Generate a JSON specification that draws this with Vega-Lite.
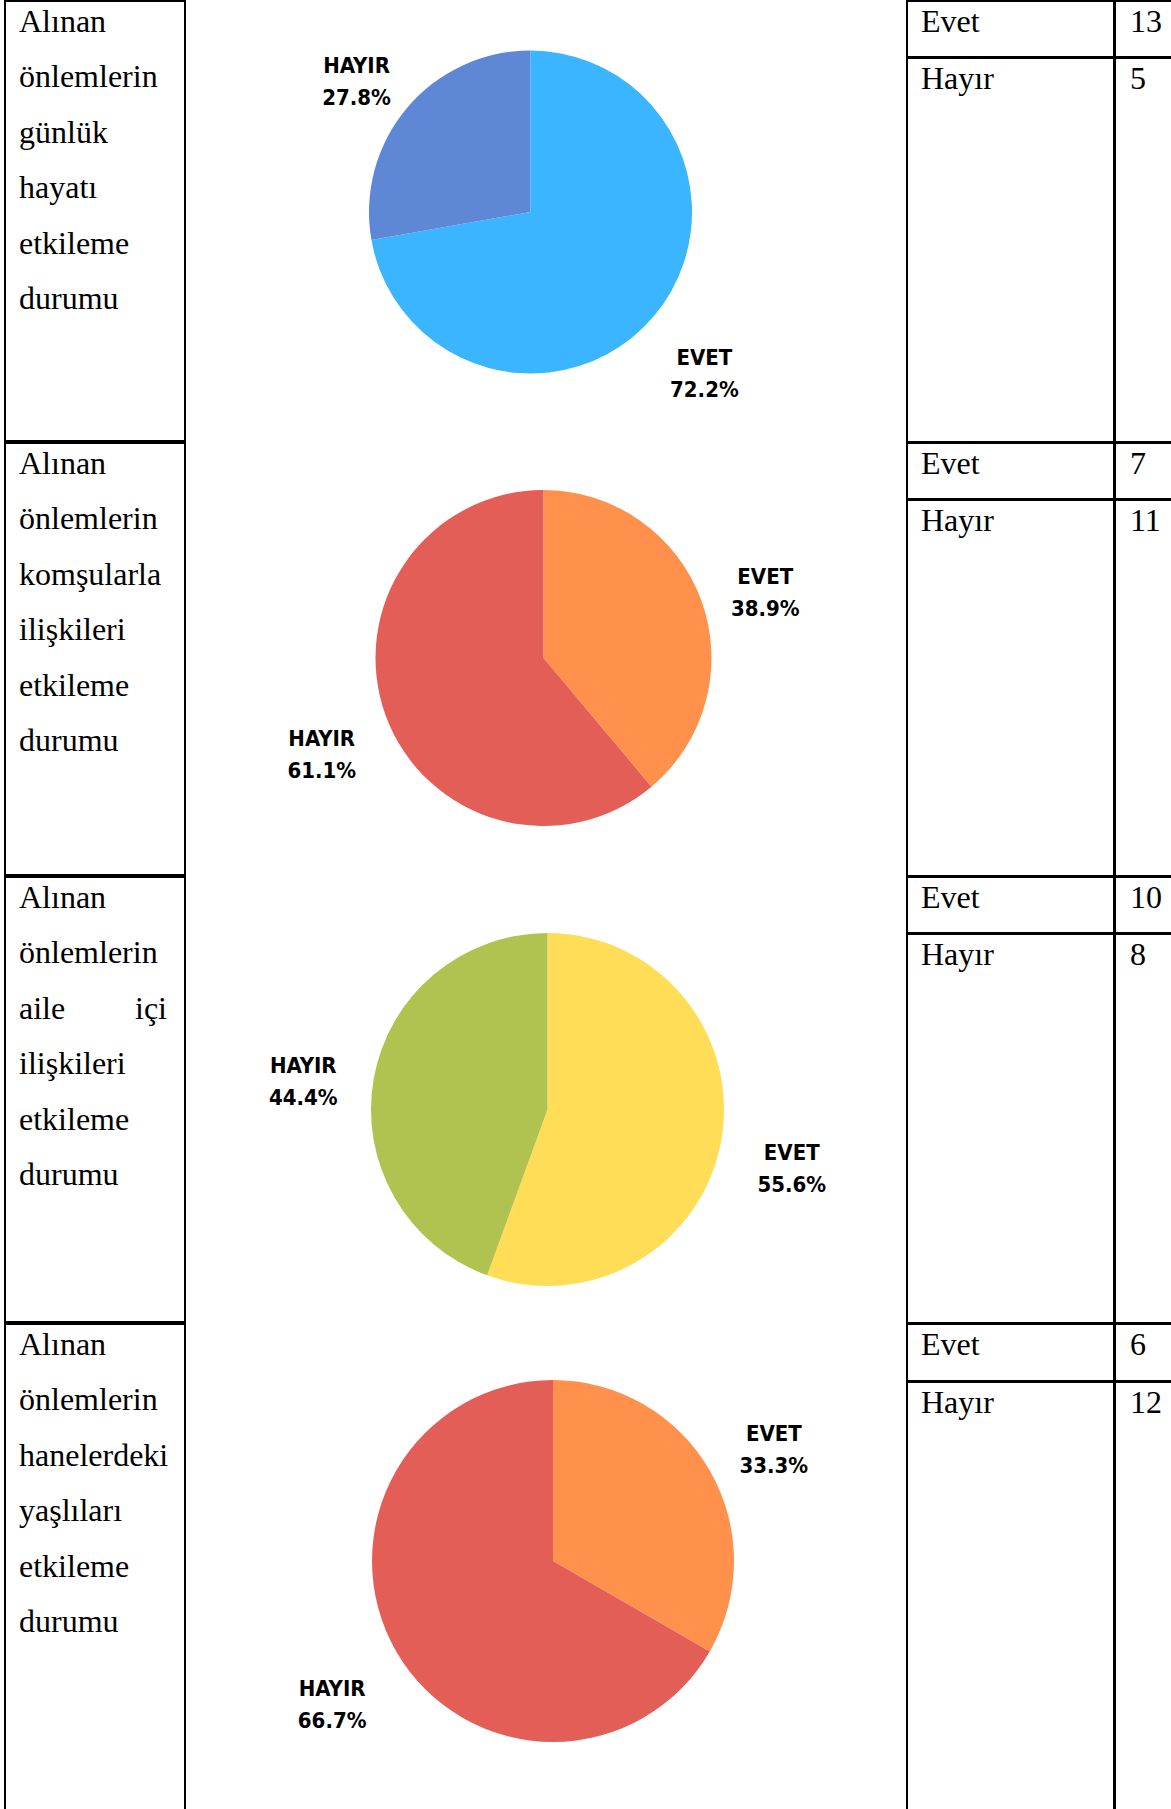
{
  "$schema": "https://vega.github.io/schema/vega-lite/v6.json",
  "padding": {"left": 4, "top": 0, "right": 0, "bottom": 0},
  "background": "white",
  "config": {"view": {"stroke": "black", "strokeWidth": 2}, "concat": {"spacing": -4}},
  "datasets": {
    "labels": [
      {"q": 1, "line": 1, "side": 0, "text": "Alınan"},
      {"q": 1, "line": 2, "side": 0, "text": "önlemlerin"},
      {"q": 1, "line": 3, "side": 0, "text": "günlük"},
      {"q": 1, "line": 4, "side": 0, "text": "hayatı"},
      {"q": 1, "line": 5, "side": 0, "text": "etkileme"},
      {"q": 1, "line": 6, "side": 0, "text": "durumu"},
      {"q": 2, "line": 1, "side": 0, "text": "Alınan"},
      {"q": 2, "line": 2, "side": 0, "text": "önlemlerin"},
      {"q": 2, "line": 3, "side": 0, "text": "komşularla"},
      {"q": 2, "line": 4, "side": 0, "text": "ilişkileri"},
      {"q": 2, "line": 5, "side": 0, "text": "etkileme"},
      {"q": 2, "line": 6, "side": 0, "text": "durumu"},
      {"q": 3, "line": 1, "side": 0, "text": "Alınan"},
      {"q": 3, "line": 2, "side": 0, "text": "önlemlerin"},
      {"q": 3, "line": 3, "side": 0, "text": "aile"},
      {"q": 3, "line": 3, "side": 1, "text": "içi"},
      {"q": 3, "line": 4, "side": 0, "text": "ilişkileri"},
      {"q": 3, "line": 5, "side": 0, "text": "etkileme"},
      {"q": 3, "line": 6, "side": 0, "text": "durumu"},
      {"q": 4, "line": 1, "side": 0, "text": "Alınan"},
      {"q": 4, "line": 2, "side": 0, "text": "önlemlerin"},
      {"q": 4, "line": 3, "side": 0, "text": "hanelerdeki"},
      {"q": 4, "line": 4, "side": 0, "text": "yaşlıları"},
      {"q": 4, "line": 5, "side": 0, "text": "etkileme"},
      {"q": 4, "line": 6, "side": 0, "text": "durumu"}
    ],
    "pies": [
      {"q": 1, "answer": "Evet", "count": 13, "pct": 72.2},
      {"q": 1, "answer": "Hayır", "count": 5, "pct": 27.8},
      {"q": 2, "answer": "Evet", "count": 7, "pct": 38.9},
      {"q": 2, "answer": "Hayır", "count": 11, "pct": 61.1},
      {"q": 3, "answer": "Evet", "count": 10, "pct": 55.6},
      {"q": 3, "answer": "Hayır", "count": 8, "pct": 44.4},
      {"q": 4, "answer": "Evet", "count": 6, "pct": 33.3},
      {"q": 4, "answer": "Hayır", "count": 12, "pct": 66.7}
    ]
  },
  "spacing": -4,
  "resolve": {"scale": {"color": "independent", "theta": "independent", "x": "independent", "y": "independent"}},
  "vconcat": [
    {
      "spacing": -4,
      "resolve": {"scale": {"color": "independent", "theta": "independent", "x": "independent", "y": "independent"}},
      "hconcat": [
        {"width": 180, "height": 440, "data": {"name": "labels"},
         "transform": [{"filter": "datum.q == 1"}],
         "encoding": {
           "x": {"field": "side", "type": "quantitative", "axis": null, "scale": {"domain": [0, 1], "range": [14, 162], "nice": false, "zero": false}},
           "y": {"field": "line", "type": "quantitative", "axis": null, "scale": {"domain": [1, 6], "range": [31, 308], "nice": false, "zero": false}},
           "text": {"field": "text"}},
         "layer": [
           {"transform": [{"filter": "datum.side == 0"}], "mark": {"type": "text", "align": "left", "baseline": "alphabetic", "font": "Liberation Serif", "fontSize": 32, "color": "black"}},
           {"transform": [{"filter": "datum.side == 1"}], "mark": {"type": "text", "align": "right", "baseline": "alphabetic", "font": "Liberation Serif", "fontSize": 32, "color": "black"}}
         ]},
        {"width": 721, "height": 440, "data": {"name": "pies"},
         "transform": [{"filter": "datum.q == 1"}, {"calculate": "upper(datum.answer) + '\\n' + format(datum.pct, '.1f') + '%'", "as": "lbl"}],
         "encoding": {
           "theta": {"field": "count", "type": "quantitative", "stack": true},
           "order": {"field": "answer", "sort": "ascending"},
           "color": {"field": "answer", "type": "nominal", "legend": null, "scale": {"domain": ["Evet", "Hayır"], "range": ["#3BB5FF", "#5E88D6"]}}},
         "layer": [
           {"mark": {"type": "arc", "outerRadius": 161.5, "xOffset": -16, "yOffset": -9}},
           {"mark": {"type": "text", "radius": 227, "xOffset": -16, "yOffset": -9, "font": "'Liberation Sans Narrow', 'DejaVu Sans Condensed', 'Open Sans', sans-serif", "fontWeight": "bold", "fontSize": 22, "lineBreak": "\n", "lineHeight": 32, "align": "center", "baseline": "middle"},
            "encoding": {"text": {"field": "lbl"}, "color": {"value": "black"}}}
         ]},
        {"spacing": -4, "vconcat": [
          {"width": 207, "height": 56, "data": {"name": "pies"}, "transform": [{"filter": "datum.q == 1 && datum.answer == 'Evet'"}],
           "mark": {"type": "text", "align": "left", "baseline": "alphabetic", "font": "Liberation Serif", "fontSize": 32, "color": "black"},
           "encoding": {"x": {"datum": 0, "type": "quantitative", "axis": null, "scale": {"domain": [0, 1], "range": [14, 192], "nice": false, "zero": false}},
                        "y": {"datum": 1, "type": "quantitative", "axis": null, "scale": {"domain": [1, 6], "range": [31, 308], "nice": false, "zero": false}},
                        "text": {"field": "answer"}}},
          {"width": 207, "height": 384, "data": {"name": "pies"}, "transform": [{"filter": "datum.q == 1 && datum.answer == 'Hayır'"}],
           "mark": {"type": "text", "align": "left", "baseline": "alphabetic", "font": "Liberation Serif", "fontSize": 32, "color": "black"},
           "encoding": {"x": {"datum": 0, "type": "quantitative", "axis": null, "scale": {"domain": [0, 1], "range": [14, 192], "nice": false, "zero": false}},
                        "y": {"datum": 1, "type": "quantitative", "axis": null, "scale": {"domain": [1, 6], "range": [31, 308], "nice": false, "zero": false}},
                        "text": {"field": "answer"}}}
        ]},
        {"spacing": -4, "vconcat": [
          {"width": 58, "height": 56, "data": {"name": "pies"}, "transform": [{"filter": "datum.q == 1 && datum.answer == 'Evet'"}],
           "mark": {"type": "text", "align": "left", "baseline": "alphabetic", "font": "Liberation Serif", "fontSize": 32, "color": "black"},
           "encoding": {"x": {"datum": 0, "type": "quantitative", "axis": null, "scale": {"domain": [0, 1], "range": [15, 50], "nice": false, "zero": false}},
                        "y": {"datum": 1, "type": "quantitative", "axis": null, "scale": {"domain": [1, 6], "range": [31, 308], "nice": false, "zero": false}},
                        "text": {"field": "count"}}},
          {"width": 58, "height": 384, "data": {"name": "pies"}, "transform": [{"filter": "datum.q == 1 && datum.answer == 'Hayır'"}],
           "mark": {"type": "text", "align": "left", "baseline": "alphabetic", "font": "Liberation Serif", "fontSize": 32, "color": "black"},
           "encoding": {"x": {"datum": 0, "type": "quantitative", "axis": null, "scale": {"domain": [0, 1], "range": [15, 50], "nice": false, "zero": false}},
                        "y": {"datum": 1, "type": "quantitative", "axis": null, "scale": {"domain": [1, 6], "range": [31, 308], "nice": false, "zero": false}},
                        "text": {"field": "count"}}}
        ]}
      ]
    },
    {
      "spacing": -4,
      "resolve": {"scale": {"color": "independent", "theta": "independent", "x": "independent", "y": "independent"}},
      "hconcat": [
        {"width": 180, "height": 432, "data": {"name": "labels"},
         "transform": [{"filter": "datum.q == 2"}],
         "encoding": {
           "x": {"field": "side", "type": "quantitative", "axis": null, "scale": {"domain": [0, 1], "range": [14, 162], "nice": false, "zero": false}},
           "y": {"field": "line", "type": "quantitative", "axis": null, "scale": {"domain": [1, 6], "range": [31, 308], "nice": false, "zero": false}},
           "text": {"field": "text"}},
         "layer": [
           {"transform": [{"filter": "datum.side == 0"}], "mark": {"type": "text", "align": "left", "baseline": "alphabetic", "font": "Liberation Serif", "fontSize": 32, "color": "black"}},
           {"transform": [{"filter": "datum.side == 1"}], "mark": {"type": "text", "align": "right", "baseline": "alphabetic", "font": "Liberation Serif", "fontSize": 32, "color": "black"}}
         ]},
        {"width": 721, "height": 432, "data": {"name": "pies"},
         "transform": [{"filter": "datum.q == 2"}, {"calculate": "upper(datum.answer) + '\\n' + format(datum.pct, '.1f') + '%'", "as": "lbl"}],
         "encoding": {
           "theta": {"field": "count", "type": "quantitative", "stack": true},
           "order": {"field": "answer", "sort": "ascending"},
           "color": {"field": "answer", "type": "nominal", "legend": null, "scale": {"domain": ["Evet", "Hayır"], "range": ["#FF914D", "#E45E58"]}}},
         "layer": [
           {"mark": {"type": "arc", "outerRadius": 168, "xOffset": -3, "yOffset": -1}},
           {"mark": {"type": "text", "radius": 236, "xOffset": -3, "yOffset": -1, "font": "'Liberation Sans Narrow', 'DejaVu Sans Condensed', 'Open Sans', sans-serif", "fontWeight": "bold", "fontSize": 22, "lineBreak": "\n", "lineHeight": 32, "align": "center", "baseline": "middle"},
            "encoding": {"text": {"field": "lbl"}, "color": {"value": "black"}}}
         ]},
        {"spacing": -4, "vconcat": [
          {"width": 207, "height": 56, "data": {"name": "pies"}, "transform": [{"filter": "datum.q == 2 && datum.answer == 'Evet'"}],
           "mark": {"type": "text", "align": "left", "baseline": "alphabetic", "font": "Liberation Serif", "fontSize": 32, "color": "black"},
           "encoding": {"x": {"datum": 0, "type": "quantitative", "axis": null, "scale": {"domain": [0, 1], "range": [14, 192], "nice": false, "zero": false}},
                        "y": {"datum": 1, "type": "quantitative", "axis": null, "scale": {"domain": [1, 6], "range": [31, 308], "nice": false, "zero": false}},
                        "text": {"field": "answer"}}},
          {"width": 207, "height": 376, "data": {"name": "pies"}, "transform": [{"filter": "datum.q == 2 && datum.answer == 'Hayır'"}],
           "mark": {"type": "text", "align": "left", "baseline": "alphabetic", "font": "Liberation Serif", "fontSize": 32, "color": "black"},
           "encoding": {"x": {"datum": 0, "type": "quantitative", "axis": null, "scale": {"domain": [0, 1], "range": [14, 192], "nice": false, "zero": false}},
                        "y": {"datum": 1, "type": "quantitative", "axis": null, "scale": {"domain": [1, 6], "range": [31, 308], "nice": false, "zero": false}},
                        "text": {"field": "answer"}}}
        ]},
        {"spacing": -4, "vconcat": [
          {"width": 58, "height": 56, "data": {"name": "pies"}, "transform": [{"filter": "datum.q == 2 && datum.answer == 'Evet'"}],
           "mark": {"type": "text", "align": "left", "baseline": "alphabetic", "font": "Liberation Serif", "fontSize": 32, "color": "black"},
           "encoding": {"x": {"datum": 0, "type": "quantitative", "axis": null, "scale": {"domain": [0, 1], "range": [15, 50], "nice": false, "zero": false}},
                        "y": {"datum": 1, "type": "quantitative", "axis": null, "scale": {"domain": [1, 6], "range": [31, 308], "nice": false, "zero": false}},
                        "text": {"field": "count"}}},
          {"width": 58, "height": 376, "data": {"name": "pies"}, "transform": [{"filter": "datum.q == 2 && datum.answer == 'Hayır'"}],
           "mark": {"type": "text", "align": "left", "baseline": "alphabetic", "font": "Liberation Serif", "fontSize": 32, "color": "black"},
           "encoding": {"x": {"datum": 0, "type": "quantitative", "axis": null, "scale": {"domain": [0, 1], "range": [15, 50], "nice": false, "zero": false}},
                        "y": {"datum": 1, "type": "quantitative", "axis": null, "scale": {"domain": [1, 6], "range": [31, 308], "nice": false, "zero": false}},
                        "text": {"field": "count"}}}
        ]}
      ]
    },
    {
      "spacing": -4,
      "resolve": {"scale": {"color": "independent", "theta": "independent", "x": "independent", "y": "independent"}},
      "hconcat": [
        {"width": 180, "height": 445, "data": {"name": "labels"},
         "transform": [{"filter": "datum.q == 3"}],
         "encoding": {
           "x": {"field": "side", "type": "quantitative", "axis": null, "scale": {"domain": [0, 1], "range": [14, 162], "nice": false, "zero": false}},
           "y": {"field": "line", "type": "quantitative", "axis": null, "scale": {"domain": [1, 6], "range": [31, 308], "nice": false, "zero": false}},
           "text": {"field": "text"}},
         "layer": [
           {"transform": [{"filter": "datum.side == 0"}], "mark": {"type": "text", "align": "left", "baseline": "alphabetic", "font": "Liberation Serif", "fontSize": 32, "color": "black"}},
           {"transform": [{"filter": "datum.side == 1"}], "mark": {"type": "text", "align": "right", "baseline": "alphabetic", "font": "Liberation Serif", "fontSize": 32, "color": "black"}}
         ]},
        {"width": 721, "height": 445, "data": {"name": "pies"},
         "transform": [{"filter": "datum.q == 3"}, {"calculate": "upper(datum.answer) + '\\n' + format(datum.pct, '.1f') + '%'", "as": "lbl"}],
         "encoding": {
           "theta": {"field": "count", "type": "quantitative", "stack": true},
           "order": {"field": "answer", "sort": "ascending"},
           "color": {"field": "answer", "type": "nominal", "legend": null, "scale": {"domain": ["Evet", "Hayır"], "range": ["#FFDD57", "#B0C24F"]}}},
         "layer": [
           {"mark": {"type": "arc", "outerRadius": 176.5, "xOffset": 1, "yOffset": 10}},
           {"mark": {"type": "text", "radius": 248, "xOffset": 1, "yOffset": 10, "font": "'Liberation Sans Narrow', 'DejaVu Sans Condensed', 'Open Sans', sans-serif", "fontWeight": "bold", "fontSize": 22, "lineBreak": "\n", "lineHeight": 32, "align": "center", "baseline": "middle"},
            "encoding": {"text": {"field": "lbl"}, "color": {"value": "black"}}}
         ]},
        {"spacing": -4, "vconcat": [
          {"width": 207, "height": 56, "data": {"name": "pies"}, "transform": [{"filter": "datum.q == 3 && datum.answer == 'Evet'"}],
           "mark": {"type": "text", "align": "left", "baseline": "alphabetic", "font": "Liberation Serif", "fontSize": 32, "color": "black"},
           "encoding": {"x": {"datum": 0, "type": "quantitative", "axis": null, "scale": {"domain": [0, 1], "range": [14, 192], "nice": false, "zero": false}},
                        "y": {"datum": 1, "type": "quantitative", "axis": null, "scale": {"domain": [1, 6], "range": [31, 308], "nice": false, "zero": false}},
                        "text": {"field": "answer"}}},
          {"width": 207, "height": 389, "data": {"name": "pies"}, "transform": [{"filter": "datum.q == 3 && datum.answer == 'Hayır'"}],
           "mark": {"type": "text", "align": "left", "baseline": "alphabetic", "font": "Liberation Serif", "fontSize": 32, "color": "black"},
           "encoding": {"x": {"datum": 0, "type": "quantitative", "axis": null, "scale": {"domain": [0, 1], "range": [14, 192], "nice": false, "zero": false}},
                        "y": {"datum": 1, "type": "quantitative", "axis": null, "scale": {"domain": [1, 6], "range": [31, 308], "nice": false, "zero": false}},
                        "text": {"field": "answer"}}}
        ]},
        {"spacing": -4, "vconcat": [
          {"width": 58, "height": 56, "data": {"name": "pies"}, "transform": [{"filter": "datum.q == 3 && datum.answer == 'Evet'"}],
           "mark": {"type": "text", "align": "left", "baseline": "alphabetic", "font": "Liberation Serif", "fontSize": 32, "color": "black"},
           "encoding": {"x": {"datum": 0, "type": "quantitative", "axis": null, "scale": {"domain": [0, 1], "range": [15, 50], "nice": false, "zero": false}},
                        "y": {"datum": 1, "type": "quantitative", "axis": null, "scale": {"domain": [1, 6], "range": [31, 308], "nice": false, "zero": false}},
                        "text": {"field": "count"}}},
          {"width": 58, "height": 389, "data": {"name": "pies"}, "transform": [{"filter": "datum.q == 3 && datum.answer == 'Hayır'"}],
           "mark": {"type": "text", "align": "left", "baseline": "alphabetic", "font": "Liberation Serif", "fontSize": 32, "color": "black"},
           "encoding": {"x": {"datum": 0, "type": "quantitative", "axis": null, "scale": {"domain": [0, 1], "range": [15, 50], "nice": false, "zero": false}},
                        "y": {"datum": 1, "type": "quantitative", "axis": null, "scale": {"domain": [1, 6], "range": [31, 308], "nice": false, "zero": false}},
                        "text": {"field": "count"}}}
        ]}
      ]
    },
    {
      "spacing": -4,
      "resolve": {"scale": {"color": "independent", "theta": "independent", "x": "independent", "y": "independent"}},
      "hconcat": [
        {"width": 180, "height": 492, "data": {"name": "labels"},
         "transform": [{"filter": "datum.q == 4"}],
         "encoding": {
           "x": {"field": "side", "type": "quantitative", "axis": null, "scale": {"domain": [0, 1], "range": [14, 162], "nice": false, "zero": false}},
           "y": {"field": "line", "type": "quantitative", "axis": null, "scale": {"domain": [1, 6], "range": [31, 308], "nice": false, "zero": false}},
           "text": {"field": "text"}},
         "layer": [
           {"transform": [{"filter": "datum.side == 0"}], "mark": {"type": "text", "align": "left", "baseline": "alphabetic", "font": "Liberation Serif", "fontSize": 32, "color": "black"}},
           {"transform": [{"filter": "datum.side == 1"}], "mark": {"type": "text", "align": "right", "baseline": "alphabetic", "font": "Liberation Serif", "fontSize": 32, "color": "black"}}
         ]},
        {"width": 721, "height": 492, "data": {"name": "pies"},
         "transform": [{"filter": "datum.q == 4"}, {"calculate": "upper(datum.answer) + '\\n' + format(datum.pct, '.1f') + '%'", "as": "lbl"}],
         "encoding": {
           "theta": {"field": "count", "type": "quantitative", "stack": true},
           "order": {"field": "answer", "sort": "ascending"},
           "color": {"field": "answer", "type": "nominal", "legend": null, "scale": {"domain": ["Evet", "Hayır"], "range": ["#FF914D", "#E45E58"]}}},
         "layer": [
           {"mark": {"type": "arc", "outerRadius": 181, "xOffset": 6.5, "yOffset": -9}},
           {"mark": {"type": "text", "radius": 255, "xOffset": 6.5, "yOffset": -9, "font": "'Liberation Sans Narrow', 'DejaVu Sans Condensed', 'Open Sans', sans-serif", "fontWeight": "bold", "fontSize": 22, "lineBreak": "\n", "lineHeight": 32, "align": "center", "baseline": "middle"},
            "encoding": {"text": {"field": "lbl"}, "color": {"value": "black"}}}
         ]},
        {"spacing": -4, "vconcat": [
          {"width": 207, "height": 57, "data": {"name": "pies"}, "transform": [{"filter": "datum.q == 4 && datum.answer == 'Evet'"}],
           "mark": {"type": "text", "align": "left", "baseline": "alphabetic", "font": "Liberation Serif", "fontSize": 32, "color": "black"},
           "encoding": {"x": {"datum": 0, "type": "quantitative", "axis": null, "scale": {"domain": [0, 1], "range": [14, 192], "nice": false, "zero": false}},
                        "y": {"datum": 1, "type": "quantitative", "axis": null, "scale": {"domain": [1, 6], "range": [31, 308], "nice": false, "zero": false}},
                        "text": {"field": "answer"}}},
          {"width": 207, "height": 435, "data": {"name": "pies"}, "transform": [{"filter": "datum.q == 4 && datum.answer == 'Hayır'"}],
           "mark": {"type": "text", "align": "left", "baseline": "alphabetic", "font": "Liberation Serif", "fontSize": 32, "color": "black"},
           "encoding": {"x": {"datum": 0, "type": "quantitative", "axis": null, "scale": {"domain": [0, 1], "range": [14, 192], "nice": false, "zero": false}},
                        "y": {"datum": 1, "type": "quantitative", "axis": null, "scale": {"domain": [1, 6], "range": [31, 308], "nice": false, "zero": false}},
                        "text": {"field": "answer"}}}
        ]},
        {"spacing": -4, "vconcat": [
          {"width": 58, "height": 57, "data": {"name": "pies"}, "transform": [{"filter": "datum.q == 4 && datum.answer == 'Evet'"}],
           "mark": {"type": "text", "align": "left", "baseline": "alphabetic", "font": "Liberation Serif", "fontSize": 32, "color": "black"},
           "encoding": {"x": {"datum": 0, "type": "quantitative", "axis": null, "scale": {"domain": [0, 1], "range": [15, 50], "nice": false, "zero": false}},
                        "y": {"datum": 1, "type": "quantitative", "axis": null, "scale": {"domain": [1, 6], "range": [31, 308], "nice": false, "zero": false}},
                        "text": {"field": "count"}}},
          {"width": 58, "height": 435, "data": {"name": "pies"}, "transform": [{"filter": "datum.q == 4 && datum.answer == 'Hayır'"}],
           "mark": {"type": "text", "align": "left", "baseline": "alphabetic", "font": "Liberation Serif", "fontSize": 32, "color": "black"},
           "encoding": {"x": {"datum": 0, "type": "quantitative", "axis": null, "scale": {"domain": [0, 1], "range": [15, 50], "nice": false, "zero": false}},
                        "y": {"datum": 1, "type": "quantitative", "axis": null, "scale": {"domain": [1, 6], "range": [31, 308], "nice": false, "zero": false}},
                        "text": {"field": "count"}}}
        ]}
      ]
    }
  ]
}
